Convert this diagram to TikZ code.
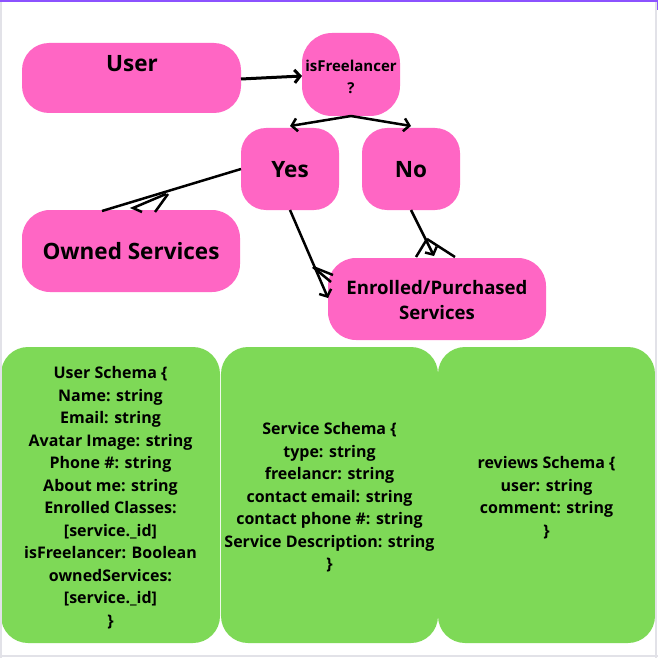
\documentclass[tikz,border=0pt]{standalone}
\usepackage{fontspec}
\setmainfont{Open Sans}
\usetikzlibrary{arrows.meta,calc}
\definecolor{pinkc}{HTML}{FF66C4}
\definecolor{greenc}{HTML}{7ED957}
\definecolor{purplec}{HTML}{8C52FF}
\definecolor{framec}{HTML}{E2E2E8}
\begin{document}
\begin{tikzpicture}[x=1pt,y=-1pt,
  pinkbox/.style={fill=pinkc, draw=none, rounded corners=#1, inner sep=0pt, outer sep=0pt},
  pinkbox/.default=25pt,
  greenbox/.style={fill=greenc, draw=none, rounded corners=27pt, inner sep=0pt, outer sep=0pt, minimum height=296pt},
  schematext/.style={align=center, inner sep=0pt, font=\bfseries\fontsize{16}{22.5}\selectfont},
  bigtext/.style={font=\bfseries\fontsize{22.5}{26}\selectfont, inner sep=0pt},
  midtext/.style={font=\bfseries\fontsize{18.6}{25}\selectfont, align=center, inner sep=0pt},
  smalltext/.style={font=\bfseries\fontsize{15}{22.5}\selectfont, align=center, inner sep=0pt},
  conn/.style={draw=black, line width=2.5pt},
  tip/.style={-{Straight Barb[length=5.5pt,width=13pt]}}
]
\useasboundingbox (0,0) rectangle (658,658);
\fill[white] (0,0) rectangle (658,658);

% pink boxes
\node[pinkbox=27pt, minimum width=219pt, minimum height=70pt] (user) at (131.5,78) {};
\node[bigtext] (usertext) at (132,64) {User};
\node[pinkbox=30pt, minimum width=98pt, minimum height=83pt] (isf) at (351,74.5) {};
\node[smalltext] (isftext) at (351,77) {isFreelancer\\?};
\node[pinkbox=25pt, minimum width=98pt, minimum height=82pt] (yes) at (290,169) {};
\node[bigtext] (yestext) at (290,170) {Yes};
\node[pinkbox=25pt, minimum width=98pt, minimum height=82pt] (no) at (411,169) {};
\node[bigtext] (notext) at (411,170) {No};
\node[pinkbox=28pt, minimum width=218pt, minimum height=82pt] (owned) at (131,251) {};
\node[bigtext] (ownedtext) at (131,251.5) {Owned Services};
\node[pinkbox=28pt, minimum width=218pt, minimum height=82pt] (enr) at (437,299) {};
\node[midtext] (enrtext) at (437,300.5) {Enrolled/Purchased\\Services};

% green schema boxes
\node[greenbox, minimum width=219pt] (userschema) at (110.5,495) {};
\node[schematext] (userschematext) at (110.5,497.5) {User Schema \{\\Name: string\\Email: string\\Avatar Image: string\\Phone \#: string\\About me: string\\Enrolled Classes:\\{[service.\_id]}\\isFreelancer: Boolean\\ownedServices:\\{[service.\_id]}\\\}};
\node[greenbox, minimum width=217pt] (serviceschema) at (329.5,495) {};
\node[schematext] (serviceschematext) at (329.5,497.5) {Service Schema \{\\type: string\\freelancr: string\\contact email: string\\contact phone \#: string\\Service Description: string\\\}};
\node[greenbox, minimum width=217pt] (reviewsschema) at (546.5,495) {};
\node[schematext] (reviewsschematext) at (546.5,497.5) {reviews Schema \{\\user: string\\comment: string\\\}};

% connectors
\draw[conn, line width=3pt, tip] ([yshift=-1pt]user.east) -- ([yshift=-1.5pt]isf.west);
\draw[conn, tip] (isf.south) -- ([yshift=2pt]yes.north);
\draw[conn, tip] (isf.south) -- ([yshift=2pt]no.north);

\draw[conn] (yes.west) -- ([xshift=-29pt,yshift=-1pt]owned.north);
\draw[conn] (166,194) -- (133,208) -- (142,212);
\draw[conn] (168,194) -- (155,212);

\draw[conn, tip] (yes.south) -- ([yshift=1pt]enr.west);
\draw[conn] (313,267) -- (333,275);
\draw[conn] (313,267) -- (331,282);

\draw[conn, tip] (no.south) -- ([xshift=-3pt,yshift=2pt]enr.north);
\draw[conn] (427,239) -- (416,257);
\draw[conn] (427,239) -- (455,257);

% frame
\draw[framec, line width=1.5pt] (0.75,0) -- (0.75,658);
\draw[framec, line width=2pt] (655.5,0) -- (655.5,658);
\draw[framec, line width=2pt] (0,655.5) -- (658,655.5);
\draw[purplec, line width=2pt] (0,1) -- (658,1);
\draw[purplec, line width=1.5pt] (657.25,0) -- (657.25,10);
\end{tikzpicture}
\end{document}
